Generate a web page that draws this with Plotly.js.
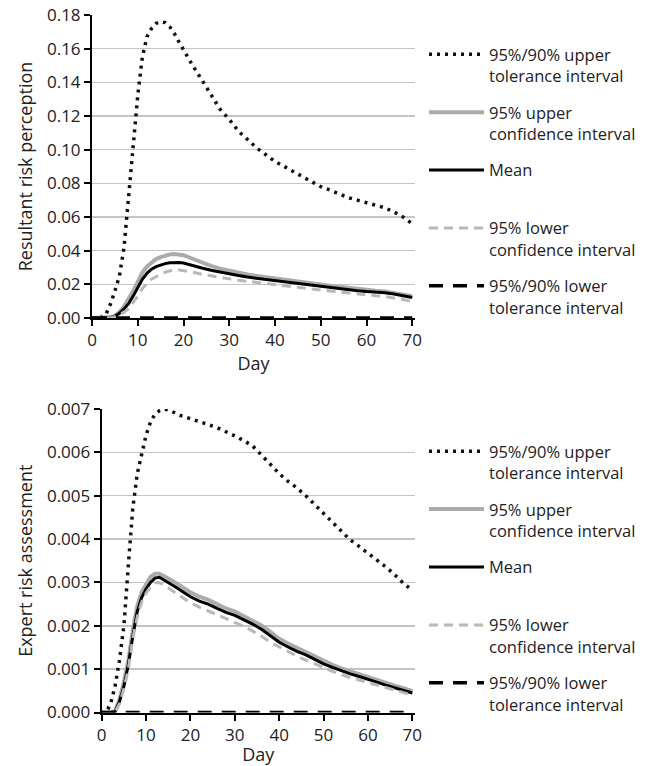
<!DOCTYPE html>
<html>
<head>
<meta charset="utf-8">
<script src="https://cdn.plot.ly/plotly-3.0.1.min.js"></script>
<style>html,body{margin:0;padding:0;background:#fff;}#chart{width:654px;height:766px;}</style>
</head>
<body>
<div id="chart"></div>
<script>
// ---- data ----
const days = [0,1,2,3,4,5,6,7,8,9,10,11,12,13,14,15,16,17,18,19,20,22,24,26,28,30,32,34,36,38,40,42,44,46,48,50,52,54,56,58,60,62,64,66,68,70];

const seriesNames = [
  "95%/90% upper<br>tolerance interval",
  "95% upper<br>confidence interval",
  "Mean<br> ",
  "95% lower<br>confidence interval",
  "95%/90% lower<br>tolerance interval"
];

// Resultant risk perception (top panel)
const rUpperTol = [0,0,0.0005,0.002,0.008,0.016,0.025,0.042,0.074,0.105,0.132,0.155,0.167,0.172,0.175,0.176,0.1755,0.173,0.169,0.164,0.159,0.150,0.1415,0.133,0.124,0.118,0.111,0.106,0.101,0.097,0.093,0.090,0.087,0.0835,0.081,0.078,0.076,0.0735,0.0715,0.070,0.0685,0.067,0.0655,0.063,0.060,0.056];
const rUpperConf = [0,0,0,0.0001,0.0004,0.0013,0.0035,0.0068,0.011,0.016,0.0215,0.027,0.0305,0.033,0.035,0.0362,0.0372,0.0378,0.038,0.0379,0.0373,0.0352,0.0328,0.031,0.0293,0.028,0.0268,0.0258,0.025,0.0242,0.0234,0.0227,0.0219,0.0212,0.0205,0.0198,0.0192,0.0185,0.0178,0.0171,0.0166,0.0162,0.0158,0.015,0.0141,0.013];
const rMean = [0,0,0,0.0001,0.0003,0.001,0.0028,0.0055,0.0085,0.013,0.018,0.023,0.0265,0.029,0.0305,0.0316,0.0323,0.0328,0.033,0.033,0.0327,0.031,0.0297,0.0284,0.0272,0.0262,0.0252,0.0243,0.0236,0.0229,0.0222,0.0215,0.0207,0.0200,0.0194,0.0188,0.0183,0.0176,0.0169,0.0162,0.0157,0.0154,0.0150,0.0142,0.0133,0.0122];
const rLowerConf = [0,0,0,0,0.0002,0.0007,0.002,0.0035,0.0055,0.009,0.013,0.0175,0.0205,0.023,0.0245,0.026,0.0272,0.028,0.0285,0.0285,0.0282,0.0272,0.026,0.025,0.024,0.0231,0.0224,0.0218,0.0211,0.0205,0.0198,0.0191,0.0184,0.0177,0.0171,0.0166,0.0161,0.0155,0.0148,0.0141,0.0136,0.0132,0.0128,0.012,0.011,0.0097];
const rLowerTol = days.map(() => 0);

// Expert risk assessment (bottom panel)
const eUpperTol = [0,0,0.0002,0.0006,0.0012,0.002,0.0034,0.0047,0.0055,0.006,0.0064,0.0067,0.00688,0.00696,0.007,0.00698,0.00693,0.00689,0.00684,0.00681,0.00678,0.00671,0.00664,0.00657,0.00648,0.00638,0.00627,0.00615,0.00594,0.00571,0.00551,0.00533,0.00518,0.005,0.0048,0.0046,0.00438,0.00418,0.00398,0.00383,0.00368,0.00352,0.00336,0.00318,0.00298,0.00282];
const eUpperConf = [0,0,0,0.00003,0.0003,0.0007,0.0012,0.0019,0.00245,0.00278,0.00298,0.00313,0.0032,0.0032,0.00315,0.0031,0.00303,0.00297,0.0029,0.00284,0.00277,0.00267,0.0026,0.0025,0.0024,0.00233,0.00223,0.00213,0.00201,0.00186,0.0017,0.00159,0.00149,0.0014,0.00129,0.00119,0.0011,0.00102,0.00095,0.00089,0.00083,0.00076,0.00068,0.00062,0.00056,0.00049];
const eMean = [0,0,0,0.00002,0.00025,0.0006,0.0011,0.00175,0.00232,0.00265,0.00285,0.003,0.0031,0.00312,0.00306,0.003,0.00293,0.00287,0.0028,0.00274,0.00267,0.00257,0.0025,0.0024,0.00231,0.00224,0.00214,0.00204,0.00192,0.00177,0.00162,0.00151,0.00141,0.00133,0.00122,0.00112,0.00104,0.00096,0.00089,0.00083,0.00077,0.0007,0.00063,0.00057,0.00052,0.00045];
const eLowerConf = [0,0,0,0.00001,0.0002,0.00055,0.001,0.0017,0.0022,0.00255,0.00275,0.0029,0.00299,0.003,0.00294,0.00288,0.0028,0.00273,0.00266,0.0026,0.00253,0.00243,0.00234,0.00225,0.00216,0.00208,0.00199,0.00188,0.00176,0.00162,0.00151,0.0014,0.0013,0.00121,0.00112,0.00103,0.00095,0.00088,0.0008,0.00075,0.00069,0.00063,0.00057,0.00051,0.00046,0.0004];
const eLowerTol = days.map(() => 0);

const xTicks = [0,10,20,30,40,50,60,70];

// ---- styles ----
const FONT = "Open Sans, Noto Sans, sans-serif";
const styles = [
  {color:"#111111", width:3.5, dash:"3px,5px"},
  {color:"#ababab", width:4,   dash:"solid"},
  {color:"#000000", width:3,   dash:"solid"},
  {color:"#b8b8b8", width:3,   dash:"9px,6px"},
  {color:"#000000", width:3.5, dash:"14px,10px"}
];

function makeTraces(series, xa, ya, legendId) {
  return series.map((vals, i) => ({
    type: "scatter", mode: "lines",
    x: days, y: vals,
    xaxis: xa, yaxis: ya,
    name: seriesNames[i],
    legend: legendId,
    legendgroup: legendId + "g" + i,
    line: {color: styles[i].color, width: styles[i].width, dash: styles[i].dash},
    hoverinfo: "skip"
  }));
}

const traces = [
  ...makeTraces([rUpperTol, rUpperConf, rMean, rLowerConf, rLowerTol], "x", "y", "legend"),
  ...makeTraces([eUpperTol, eUpperConf, eMean, eLowerConf, eLowerTol], "x2", "y2", "legend2")
];

const W = 654, H = 766;
function xAxis(domainLeft, anchor, titleStandoff) {
  return {
    domain: [domainLeft / W, 415 / W], anchor: anchor,
    range: [0, 70.6], tickvals: xTicks, ticktext: xTicks.map(String),
    showline: true, linecolor: "#000", linewidth: 2,
    ticks: "outside", ticklen: 6, tickwidth: 2, tickcolor: "#000",
    showgrid: false, zeroline: false,
    tickfont: {family: FONT, size: 17, color: "#222"},
    ticklabelstandoff: 0,
    title: {text: "Day", font: {family: FONT, size: 18, color: "#222"}, standoff: titleStandoff}
  };
}
function yAxis(top, bottom, anchor, range, dtick, fmt, title) {
  return {
    domain: [(H - bottom) / H, (H - top) / H], anchor: anchor,
    range: range, dtick: dtick, tick0: 0, tickformat: fmt,
    showline: true, linecolor: "#000", linewidth: 2,
    ticks: "outside", ticklen: 6, tickwidth: 2, tickcolor: "#000",
    showgrid: true, gridcolor: "#c4c4c4", gridwidth: 1.5, zeroline: false,
    tickfont: {family: FONT, size: 17, color: "#222"},
    title: {text: title, font: {family: FONT, size: 18, color: "#222"}, standoff: 10}
  };
}
function legendBox(yTop) {
  return {
    x: 424 / W, xanchor: "left", y: (H - yTop) / H, yanchor: "top",
    font: {family: FONT, size: 16.5, color: "#222"},
    valign: "top", itemwidth: 55, traceorder: "grouped", tracegroupgap: 12,
    bgcolor: "rgba(0,0,0,0)", borderwidth: 0
  };
}

const layout = {
  width: W, height: H,
  margin: {l: 0, r: 0, t: 0, b: 0},
  paper_bgcolor: "#fff", plot_bgcolor: "#fff",
  showlegend: true,
  xaxis: xAxis(92, "y", 2),
  yaxis: yAxis(15, 318, "x", [0, 0.18], 0.02, ".2f", "Resultant risk perception"),
  xaxis2: xAxis(101.7, "y2", 12),
  yaxis2: yAxis(409, 712.5, "x2", [0, 0.007], 0.001, ".3f", "Expert risk assessment"),
  legend: legendBox(37),
  legend2: legendBox(434)
};

Plotly.newPlot("chart", traces, layout, {staticPlot: true, displayModeBar: false});
</script>
</body>
</html>
